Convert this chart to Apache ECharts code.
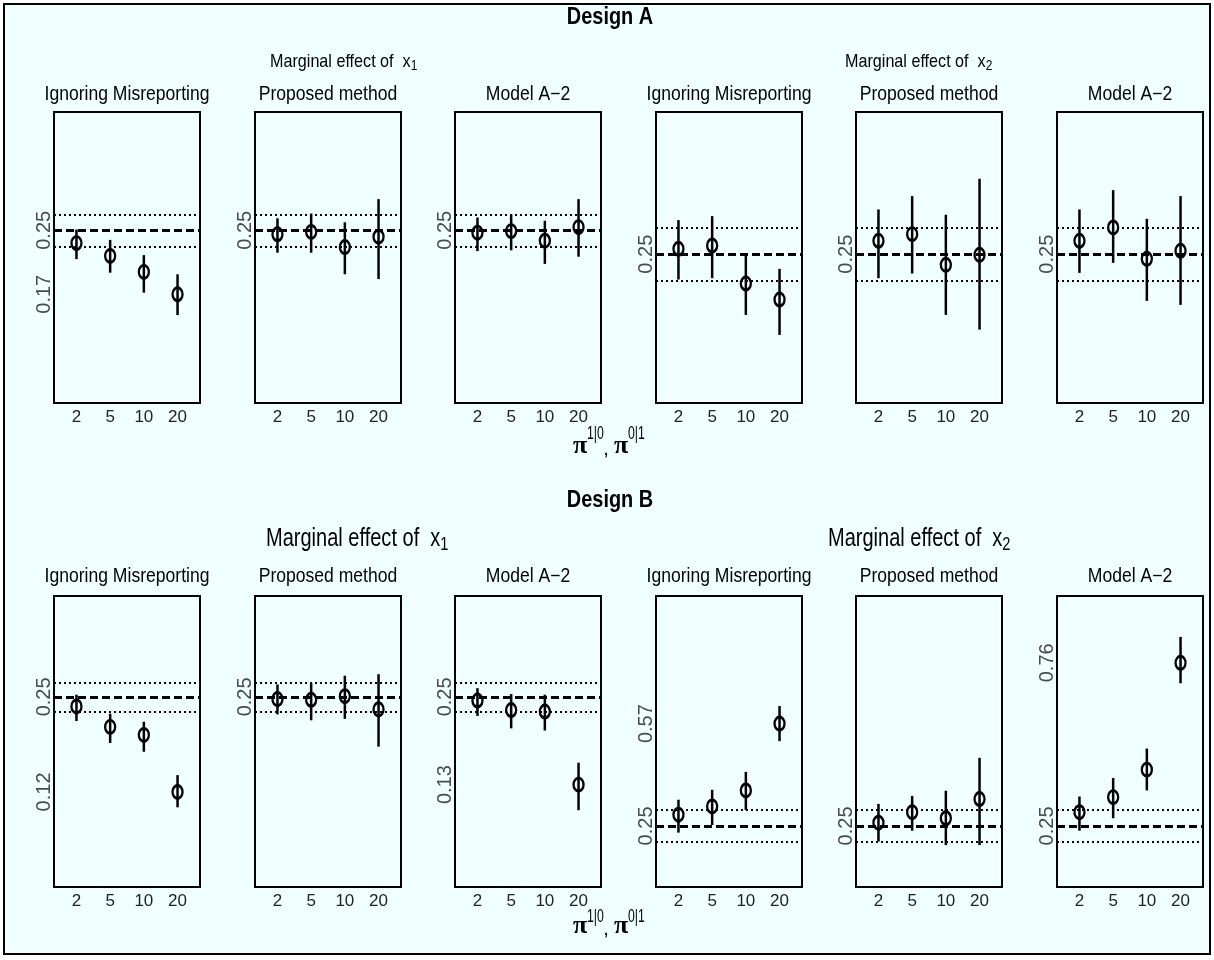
<!DOCTYPE html>
<html>
<head>
<meta charset="utf-8">
<script src="https://cdn.jsdelivr.net/npm/echarts@6/dist/echarts.min.js"></script>
<style>
  html, body { margin: 0; padding: 0; background: #ffffff; }
  #frame { position: absolute; left: 3px; top: 3px; width: 1204px; height: 948px;
           border: 2px solid #000; background: #F0FFFF; }
  #chart { position: absolute; left: 0; top: 0; width: 1214px; height: 960px; }
</style>
</head>
<body>
<div id="frame"></div>
<div id="chart"></div>
<script>
// Misreporting rates on the x axis
const misRates = ['2', '5', '10', '20'];
const trueEffect = 0.25;

// Half-width of the dotted reference band around the true effect
const bandA1 = 0.0167, bandA2 = 0.04, bandB1 = 0.0174, bandB2 = 0.05;

// Design A, marginal effect of x1
const a1IgnEst = [0.234, 0.218, 0.198, 0.170];
const a1IgnLo  = [0.214, 0.197, 0.172, 0.144];
const a1IgnHi  = [0.251, 0.238, 0.219, 0.195];
const a1PropEst = [0.245, 0.248, 0.229, 0.242];
const a1PropLo  = [0.222, 0.222, 0.195, 0.189];
const a1PropHi  = [0.265, 0.271, 0.260, 0.289];
const a1ModEst = [0.247, 0.249, 0.237, 0.254];
const a1ModLo  = [0.224, 0.225, 0.208, 0.217];
const a1ModHi  = [0.266, 0.270, 0.262, 0.289];

// Design A, marginal effect of x2
const a2IgnEst = [0.258, 0.263, 0.206, 0.182];
const a2IgnLo  = [0.212, 0.214, 0.159, 0.129];
const a2IgnHi  = [0.301, 0.307, 0.251, 0.228];
const a2PropEst = [0.270, 0.280, 0.234, 0.249];
const a2PropLo  = [0.214, 0.221, 0.159, 0.137];
const a2PropHi  = [0.317, 0.337, 0.309, 0.363];
const a2ModEst = [0.270, 0.290, 0.243, 0.255];
const a2ModLo  = [0.222, 0.237, 0.180, 0.174];
const a2ModHi  = [0.317, 0.346, 0.303, 0.337];

// Design B, marginal effect of x1
const b1IgnEst = [0.237, 0.209, 0.198, 0.120];
const b1IgnLo  = [0.217, 0.187, 0.175, 0.099];
const b1IgnHi  = [0.253, 0.227, 0.216, 0.143];
const b1PropEst = [0.247, 0.246, 0.251, 0.233];
const b1PropLo  = [0.226, 0.218, 0.220, 0.182];
const b1PropHi  = [0.267, 0.269, 0.279, 0.281];
const b1ModEst = [0.245, 0.232, 0.230, 0.130];
const b1ModLo  = [0.224, 0.207, 0.204, 0.095];
const b1ModHi  = [0.262, 0.254, 0.253, 0.160];

// Design B, marginal effect of x2
const b2IgnEst = [0.285, 0.311, 0.361, 0.570];
const b2IgnLo  = [0.229, 0.253, 0.300, 0.515];
const b2IgnHi  = [0.332, 0.363, 0.419, 0.625];
const b2PropEst = [0.260, 0.293, 0.274, 0.334];
const b2PropLo  = [0.201, 0.235, 0.190, 0.190];
const b2PropHi  = [0.319, 0.344, 0.360, 0.463];
const b2ModEst = [0.293, 0.340, 0.426, 0.760];
const b2ModLo  = [0.235, 0.274, 0.361, 0.696];
const b2ModHi  = [0.342, 0.400, 0.492, 0.841];

// y-axis tick labels shown in each panel
const a1IgnTicks = [0.17, 0.25];
const b1IgnTicks = [0.12, 0.25];
const b1ModTicks = [0.13, 0.25];
const b2IgnTicks = [0.25, 0.57];
const b2ModTicks = [0.25, 0.76];
const plainTicks = [0.25];

const methodNames = ['Ignoring Misreporting', 'Proposed method', 'Model A\u22122'];

// y ranges per design / effect block
const yRangeA1 = [0.034, 0.398];
const yRangeA2 = [0.027, 0.463];
const yRangeB1 = [-0.010, 0.388];
const yRangeB2 = [0.059, 0.969];

const panels = [
  { row: 0, col: 0, est: a1IgnEst,  lo: a1IgnLo,  hi: a1IgnHi,  band: bandA1, range: yRangeA1, ticks: a1IgnTicks },
  { row: 0, col: 1, est: a1PropEst, lo: a1PropLo, hi: a1PropHi, band: bandA1, range: yRangeA1, ticks: plainTicks },
  { row: 0, col: 2, est: a1ModEst,  lo: a1ModLo,  hi: a1ModHi,  band: bandA1, range: yRangeA1, ticks: plainTicks },
  { row: 0, col: 3, est: a2IgnEst,  lo: a2IgnLo,  hi: a2IgnHi,  band: bandA2, range: yRangeA2, ticks: plainTicks },
  { row: 0, col: 4, est: a2PropEst, lo: a2PropLo, hi: a2PropHi, band: bandA2, range: yRangeA2, ticks: plainTicks },
  { row: 0, col: 5, est: a2ModEst,  lo: a2ModLo,  hi: a2ModHi,  band: bandA2, range: yRangeA2, ticks: plainTicks },
  { row: 1, col: 0, est: b1IgnEst,  lo: b1IgnLo,  hi: b1IgnHi,  band: bandB1, range: yRangeB1, ticks: b1IgnTicks },
  { row: 1, col: 1, est: b1PropEst, lo: b1PropLo, hi: b1PropHi, band: bandB1, range: yRangeB1, ticks: plainTicks },
  { row: 1, col: 2, est: b1ModEst,  lo: b1ModLo,  hi: b1ModHi,  band: bandB1, range: yRangeB1, ticks: b1ModTicks },
  { row: 1, col: 3, est: b2IgnEst,  lo: b2IgnLo,  hi: b2IgnHi,  band: bandB2, range: yRangeB2, ticks: b2IgnTicks },
  { row: 1, col: 4, est: b2PropEst, lo: b2PropLo, hi: b2PropHi, band: bandB2, range: yRangeB2, ticks: plainTicks },
  { row: 1, col: 5, est: b2ModEst,  lo: b2ModLo,  hi: b2ModHi,  band: bandB2, range: yRangeB2, ticks: b2ModTicks }
];

// layout
const colLeft = [54, 255, 455, 656, 856, 1057];
const panelW = 146, panelH = 291;
const rowTop = [112, 596];
const sans = '"Liberation Sans", Arial, Helvetica, sans-serif';
const serif = '"Liberation Serif", "Times New Roman", serif';

const grid = [], xAxis = [], yAxis = [], series = [];
panels.forEach((p, i) => {
  grid.push({ left: colLeft[p.col], top: rowTop[p.row], width: panelW, height: panelH,
              show: true, borderColor: '#000', borderWidth: 2, backgroundColor: 'transparent' });
  xAxis.push({
    gridIndex: i, type: 'value', min: 1 / 3, max: 14 / 3,
    axisLine: { show: false }, axisTick: { show: false }, splitLine: { show: false },
    axisLabel: { customValues: [1, 2, 3, 4], formatter: v => misRates[Math.round(v) - 1],
                 fontFamily: sans, fontSize: 17, color: '#222', margin: 6 }
  });
  yAxis.push({
    gridIndex: i, type: 'value', min: p.range[0], max: p.range[1],
    axisLine: { show: false }, axisTick: { show: false }, splitLine: { show: false },
    axisLabel: { customValues: p.ticks, rotate: 90, formatter: v => v.toFixed(2),
                 fontFamily: sans, fontSize: 20, color: '#4a4a4a', margin: 0 }
  });
  // interval whiskers plus reference lines
  series.push({
    type: 'custom', xAxisIndex: i, yAxisIndex: i, silent: true, animation: false,
    data: p.est.map((e, k) => [k + 1, p.lo[k], p.hi[k]]),
    encode: { x: 0, y: [1, 2] },
    renderItem: (params, api) => {
      const a = api.coord([api.value(0), api.value(1)]);
      const b = api.coord([api.value(0), api.value(2)]);
      return { type: 'line', shape: { x1: a[0], y1: a[1], x2: b[0], y2: b[1] },
               style: { stroke: '#000', lineWidth: 2.5 } };
    },
    markLine: {
      silent: true, symbol: ['none', 'none'], label: { show: false }, animation: false,
      data: [
        { yAxis: trueEffect, lineStyle: { color: '#000', type: [8, 4], width: 3 } },
        { yAxis: trueEffect + p.band, lineStyle: { color: '#000', type: [2, 3], width: 2.2 } },
        { yAxis: trueEffect - p.band, lineStyle: { color: '#000', type: [2, 3], width: 2.2 } }
      ]
    }
  });
  // point estimates
  series.push({
    type: 'scatter', xAxisIndex: i, yAxisIndex: i, silent: true, animation: false,
    data: p.est.map((e, k) => [k + 1, e]),
    symbol: 'circle', symbolSize: [10, 13], z: 3,
    itemStyle: { color: 'rgba(0,0,0,0)', borderColor: '#000', borderWidth: 2.6, opacity: 1 }
  });
});

// titles and labels (horizontally condensed text)
const graphic = [];
function text(x, y, str, font, opts) {
  opts = opts || {};
  const style = { text: str, x: 0, y: 0, font: font, textAlign: opts.align || 'center',
                  textVerticalAlign: opts.vAlign || 'middle', fill: '#000' };
  if (opts.rich) style.rich = opts.rich;
  graphic.push({ type: 'text', silent: true, x: x, y: y, scaleX: opts.sx || 1, scaleY: 1, style: style });
}
text(610, 17, 'Design A', 'bold 24px ' + sans, { sx: 0.83 });
text(610, 500, 'Design B', 'bold 24px ' + sans, { sx: 0.83 });

const titleY = [95, 577];
for (let r = 0; r < 2; r++) {
  for (let c = 0; c < 6; c++) {
    text(colLeft[c] + panelW / 2, titleY[r], methodNames[c % 3], '19.5px ' + sans, { sx: 0.9 });
  }
}

function effectRich(size, lh, subSize, pad) {
  return {
    m: { fontFamily: sans, fontSize: size, lineHeight: lh, verticalAlign: 'top', color: '#000' },
    s: { fontFamily: sans, fontSize: subSize, lineHeight: subSize, padding: [pad, 0, 0, 0],
         verticalAlign: 'bottom', color: '#000' }
  };
}
text(270, 52, '{m|Marginal effect of  x}{s|1}', '19px ' + sans,
     { align: 'left', vAlign: 'top', sx: 0.85, rich: effectRich(19, 21, 14, 10) });
text(845, 52, '{m|Marginal effect of  x}{s|2}', '19px ' + sans,
     { align: 'left', vAlign: 'top', sx: 0.85, rich: effectRich(19, 21, 14, 10) });
text(266, 526, '{m|Marginal effect of  x}{s|1}', '26px ' + sans,
     { align: 'left', vAlign: 'top', sx: 0.77, rich: effectRich(26, 28, 19, 13) });
text(828, 526, '{m|Marginal effect of  x}{s|2}', '26px ' + sans,
     { align: 'left', vAlign: 'top', sx: 0.77, rich: effectRich(26, 28, 19, 13) });

// x-axis caption: pi^{1|0}, pi^{0|1}
function piCaption(baseY, supY) {
  text(580, baseY - 9, '\u03c0', 'bold 26px ' + serif);
  text(587, supY - 6, '1|0', '18px ' + sans, { align: 'left', sx: 0.68 });
  text(606, baseY - 6, ',', '20px ' + sans);
  text(621, baseY - 9, '\u03c0', 'bold 26px ' + serif);
  text(628, supY - 6, '0|1', '18px ' + sans, { align: 'left', sx: 0.68 });
}
piCaption(455, 440);
piCaption(935, 923);

const chart = echarts.init(document.getElementById('chart'), null, { renderer: 'canvas' });
chart.setOption({
  backgroundColor: 'transparent',
  animation: false,
  grid: grid, xAxis: xAxis, yAxis: yAxis, series: series, graphic: graphic
});
</script>
</body>
</html>
